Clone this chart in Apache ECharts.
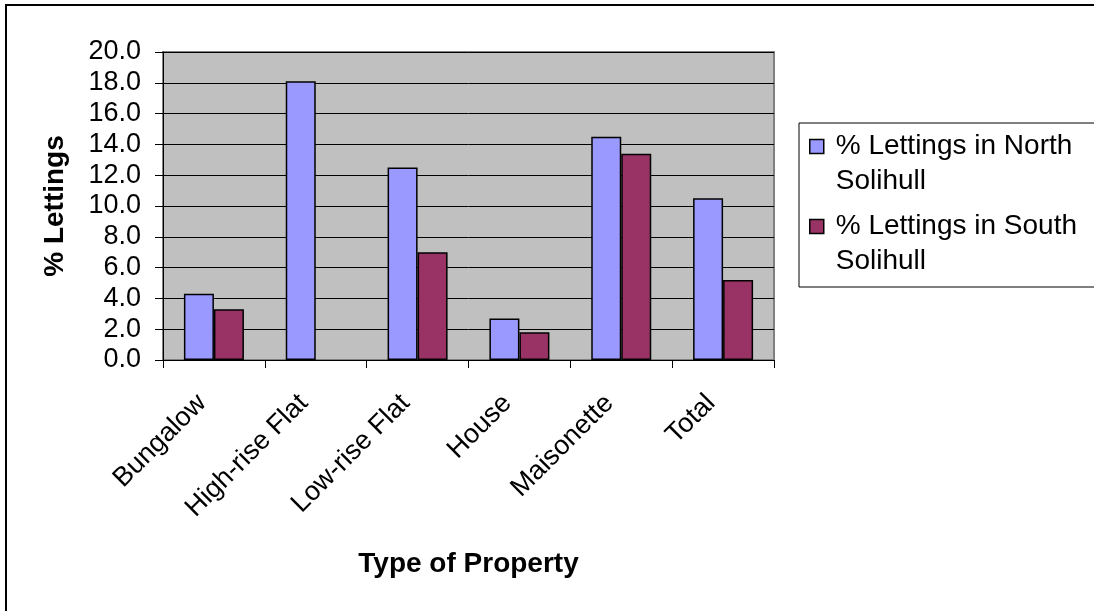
<!DOCTYPE html>
<html>
<head>
<meta charset="utf-8">
<script src="https://cdn.jsdelivr.net/npm/echarts@6/dist/echarts.min.js"></script>
<style>
	html, body { margin: 0; padding: 0; background: #fff; }
	#chart { width: 1094px; height: 611px; }
</style>
</head>
<body>
<div id="chart"></div>
<script>
// data
var categories = ['Bungalow', 'High-rise Flat', 'Low-rise Flat', 'House', 'Maisonette', 'Total'];
var northValues = [4.3, 18.1, 12.5, 2.7, 14.5, 10.5];
var southValues = [3.3, null, 7.0, 1.8, 13.4, 5.2];
var seriesNames = ['% Lettings in North Solihull', '% Lettings in South Solihull'];

var FONT = '"Liberation Sans", Arial, sans-serif';

var chart = echarts.init(document.getElementById('chart'));

// one legend per entry; the leading blank line keeps the icon level with the first text line
function legendFor(name, top) {
	return {
		show: true,
		orient: 'vertical',
		left: 809,
		top: top,
		padding: 0,
		itemWidth: 14,
		itemHeight: 14,
		icon: 'rect',
		data: [name],
		itemStyle: { borderColor: '#000', borderWidth: 1.5 },
		formatter: function (n) { return '\n' + n.replace(' Solihull', '\nSolihull'); },
		textStyle: {
			fontFamily: FONT,
			fontSize: 28,
			color: '#000',
			lineHeight: 35,
			padding: [0, 0, 0, 7]
		}
	};
}

var option = {
	backgroundColor: '#fff',
	animation: false,
	graphic: [
		{
			type: 'rect',
			z: -10,
			shape: { x: 6, y: 5, width: 1200, height: 700 },
			style: { fill: '#fff', stroke: '#000', lineWidth: 2 }
		},
		{
			type: 'rect',
			z: -5,
			shape: { x: 799, y: 123, width: 400, height: 164 },
			style: { fill: '#fff', stroke: '#000', lineWidth: 1 }
		}
	],
	legend: [
		legendFor(seriesNames[0], 94),
		legendFor(seriesNames[1], 174)
	],
	grid: {
		left: 163,
		top: 52,
		right: 320,
		bottom: 251,
		show: true,
		backgroundColor: '#c0c0c0',
		borderColor: '#808080',
		borderWidth: 2
	},
	xAxis: {
		type: 'category',
		data: categories,
		name: 'Type of Property',
		nameLocation: 'middle',
		nameGap: 190,
		nameTextStyle: { fontFamily: FONT, fontSize: 28, fontWeight: 'bold', color: '#000' },
		axisLine: { lineStyle: { color: '#000', width: 1 } },
		axisTick: { show: true, length: 8, interval: 0, lineStyle: { color: '#000' } },
		axisLabel: {
			interval: 0,
			rotate: 45,
			margin: 27,
			padding: [0, 17, 0, 0],
			fontFamily: FONT,
			fontSize: 27,
			color: '#000'
		}
	},
	yAxis: {
		type: 'value',
		min: 0,
		max: 20,
		interval: 2,
		name: '% Lettings',
		nameLocation: 'middle',
		nameGap: 94,
		nameTextStyle: { fontFamily: FONT, fontSize: 28, fontWeight: 'bold', color: '#000' },
		axisLine: { show: true, lineStyle: { color: '#000', width: 1 } },
		axisTick: { show: true, length: 8, lineStyle: { color: '#000' } },
		axisLabel: {
			margin: 22,
			fontFamily: FONT,
			fontSize: 27,
			color: '#000',
			formatter: function (v) { return v.toFixed(1); }
		},
		splitLine: { show: true, lineStyle: { color: '#000', width: 1 } }
	},
	series: [
		{
			name: seriesNames[0],
			type: 'bar',
			data: northValues,
			barWidth: 30,
			barGap: '0%',
			itemStyle: { color: '#9999ff', borderColor: '#000', borderWidth: 1.5 }
		},
		{
			name: seriesNames[1],
			type: 'bar',
			data: southValues,
			barWidth: 30,
			barGap: '0%',
			itemStyle: { color: '#993366', borderColor: '#000', borderWidth: 1.5 }
		}
	]
};

chart.setOption(option);
</script>
</body>
</html>
